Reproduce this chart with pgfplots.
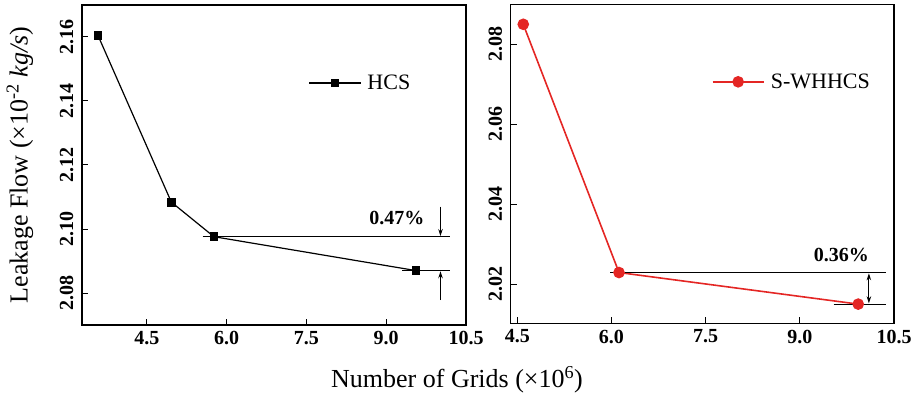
\documentclass[border=0pt]{standalone}
\usepackage{fontspec}
\setmainfont{Liberation Serif}
\usepackage{pgfplots}
\pgfplotsset{compat=1.18}
\usetikzlibrary{arrows.meta}
\definecolor{swred}{RGB}{228,38,36}

\pgfplotsset{
  panel/.style={
    scale only axis,
    anchor=south west,
    axis line style={line width=1.2pt},
    tick style={line width=1pt, black},
    major tick length=6pt,
    tick pos=left,
    tick align=inside,
    /pgf/number format/assume math mode=true,
    tick label style={font=\fontsize{20}{24}\selectfont\bfseries},
    yticklabel style={rotate=90, anchor=south},
    yticklabel shift=5pt,
    xticklabel shift=3pt,
    xticklabel={\pgfmathprintnumber[fixed,fixed zerofill,precision=1]{\tick}},
    yticklabel={\pgfmathprintnumber[fixed,fixed zerofill,precision=2]{\tick}},
    xtick={4.5,6,7.5,9,10.5},
    legend cell align=left,
    legend style={draw=none, fill=none, inner sep=0pt,
      font=\fontsize{22}{26}\selectfont, anchor=west},
    legend image code/.code={%
      \draw[#1, mark=none] (0cm,0cm) -- (1.8cm,0cm);
      \draw[#1] plot coordinates {(0.9cm,0cm)};
      \path (1.95cm,0cm);},
  },
  refline/.style={black, line width=1.1pt, forget plot},
  arr/.style={black, line width=1pt, forget plot,
    -{Stealth[length=7pt,width=4.5pt]}},
}

\begin{document}
\begin{tikzpicture}
\useasboundingbox (0,0) rectangle (918pt,402pt);

% left panel: HCS
\begin{axis}[panel,
  at={(82pt,77pt)}, width=384pt, height=320pt,
  xmin=3.28, xmax=10.5, ymin=2.07, ymax=2.17,
  ytick={2.08,2.10,2.12,2.14,2.16},
  legend style={at={(0.59,0.756)}},
]
\addplot[black, line width=1.2pt, mark=square*, mark size=3.8pt]
  coordinates {(3.58,2.1605) (4.96,2.1084) (5.76,2.0976) (9.56,2.0870)};
\addlegendentry{HCS}
\addplot[refline] coordinates {(5.55,2.0976) (10.2,2.0976)};
\addplot[refline] coordinates {(9.30,2.0870) (10.2,2.0870)};
\addplot[arr] coordinates {(10.02,2.1070) (10.02,2.0978)};
\addplot[arr] coordinates {(10.02,2.0778) (10.02,2.0868)};
\node[font=\fontsize{20}{24}\selectfont\bfseries] at (axis cs:9.2,2.1035) {0.47\%};
\end{axis}

% right panel: S-WHHCS
\begin{axis}[panel,
  at={(510.7pt,78.7pt)}, width=383.3pt, height=319pt,
  xmin=4.395, xmax=10.5, ymin=2.0102, ymax=2.09,
  ytick={2.02,2.04,2.06,2.08},
  legend style={at={(0.524,0.757)}},
]
\addplot[swred, line width=1.6pt, mark=*, mark size=5pt]
  coordinates {(4.595,2.0850) (6.12,2.0229) (9.93,2.0150)};
\addlegendentry{S-WHHCS}
\addplot[refline] coordinates {(5.98,2.0229) (10.37,2.0229)};
\addplot[refline] coordinates {(9.54,2.0150) (10.38,2.0150)};
\addplot[black, line width=1pt, forget plot,
  {Stealth[length=7pt,width=4.5pt]}-{Stealth[length=7pt,width=4.5pt]}]
  coordinates {(10.10,2.0227) (10.10,2.0152)};
\node[font=\fontsize{20}{24}\selectfont\bfseries] at (axis cs:9.66,2.0273) {0.36\%};
\end{axis}

\node[rotate=90, font=\fontsize{26}{30}\selectfont] at (20pt,237pt)
  {Leakage Flow (×10\textsuperscript{-2} \textit{kg/s})};
\node[font=\fontsize{26}{30}\selectfont] at (457pt,22pt)
  {Number of Grids (×10\textsuperscript{6})};
\end{tikzpicture}
\end{document}
